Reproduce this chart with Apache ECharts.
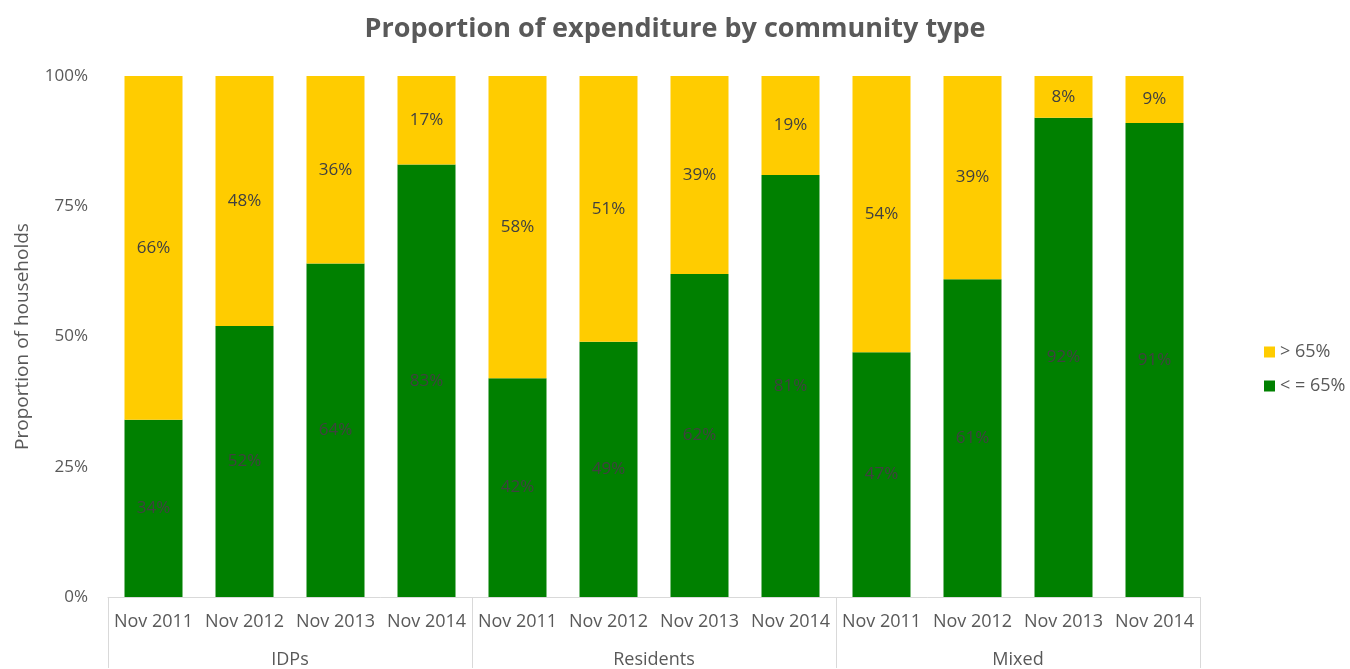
<!DOCTYPE html>
<html>
<head>
<meta charset="utf-8">
<script src="https://cdn.jsdelivr.net/npm/echarts@6/dist/echarts.min.js"></script>
<style>
  html, body { margin: 0; padding: 0; background: #fff; }
  #chart { width: 1350px; height: 669px; }
</style>
</head>
<body>
<div id="chart"></div>
<script>
// Survey rounds per community type
const periods = ['Nov 2011', 'Nov 2012', 'Nov 2013', 'Nov 2014',
                 'Nov 2011', 'Nov 2012', 'Nov 2013', 'Nov 2014',
                 'Nov 2011', 'Nov 2012', 'Nov 2013', 'Nov 2014'];
const groups = ['IDPs', 'Residents', 'Mixed'];

// Share of households (%) by food expenditure share
const atOrBelow65 = [34, 52, 64, 83, 42, 49, 62, 81, 47, 61, 92, 91];
const above65     = [66, 48, 36, 17, 58, 51, 39, 19, 54, 39, 8, 9];

const yTicks = [0, 25, 50, 75, 100];

const FONT = '"Open Sans", "DejaVu Sans", sans-serif';
const TEXT = '#595959';
const LINE = '#d9d9d9';

const chart = echarts.init(document.getElementById('chart'));

const barLabel = {
  show: true,
  position: 'inside',
  formatter: p => p.value + '%',
  color: '#404040',
  fontSize: 17,
  fontFamily: FONT
};

chart.setOption({
  animation: false,
  textStyle: { fontFamily: FONT },
  title: {
    text: 'Proportion of expenditure by community type',
    left: 'center',
    top: 11,
    padding: [5, 0, 5, 6],
    textStyle: { fontSize: 27, fontWeight: 'bold', color: TEXT, fontFamily: FONT }
  },
  legend: {
    data: ['> 65%', '< = 65%'],
    orient: 'vertical',
    left: 1259,
    top: 338,
    itemWidth: 11,
    itemHeight: 11,
    itemGap: 16,
    icon: 'rect',
    textStyle: { fontSize: 18, color: TEXT, fontFamily: FONT }
  },
  grid: { left: 108, right: 150, top: 76, bottom: 71, containLabel: false },
  xAxis: [
    {
      type: 'category',
      data: periods,
      axisLine: { show: true, lineStyle: { color: LINE, width: 1 } },
      axisTick: { show: false },
      axisLabel: { color: TEXT, fontSize: 18, margin: 16, interval: 0, fontFamily: FONT },
      splitLine: { show: false }
    },
    {
      type: 'category',
      data: groups,
      position: 'bottom',
      axisLine: { show: false },
      axisTick: { show: true, length: 71, lineStyle: { color: LINE, width: 1 } },
      axisLabel: { color: TEXT, fontSize: 18, margin: 54, interval: 0, fontFamily: FONT },
      splitLine: { show: false }
    }
  ],
  yAxis: {
    type: 'value',
    min: yTicks[0],
    max: yTicks[yTicks.length - 1],
    interval: 25,
    name: 'Proportion of households',
    nameLocation: 'middle',
    nameGap: 76,
    nameTextStyle: { fontSize: 19, color: TEXT, fontFamily: FONT },
    axisLine: { show: false },
    axisTick: { show: false },
    splitLine: { show: false },
    axisLabel: { formatter: '{value}%', color: TEXT, fontSize: 17, margin: 20, fontFamily: FONT }
  },
  series: [
    {
      name: '< = 65%',
      type: 'bar',
      stack: 'total',
      xAxisIndex: 0,
      data: atOrBelow65,
      barWidth: 58,
      itemStyle: { color: '#008000' },
      label: barLabel
    },
    {
      name: '> 65%',
      type: 'bar',
      stack: 'total',
      xAxisIndex: 0,
      data: above65,
      barWidth: 58,
      itemStyle: { color: '#FFCC00' },
      label: barLabel
    }
  ]
});
</script>
</body>
</html>
